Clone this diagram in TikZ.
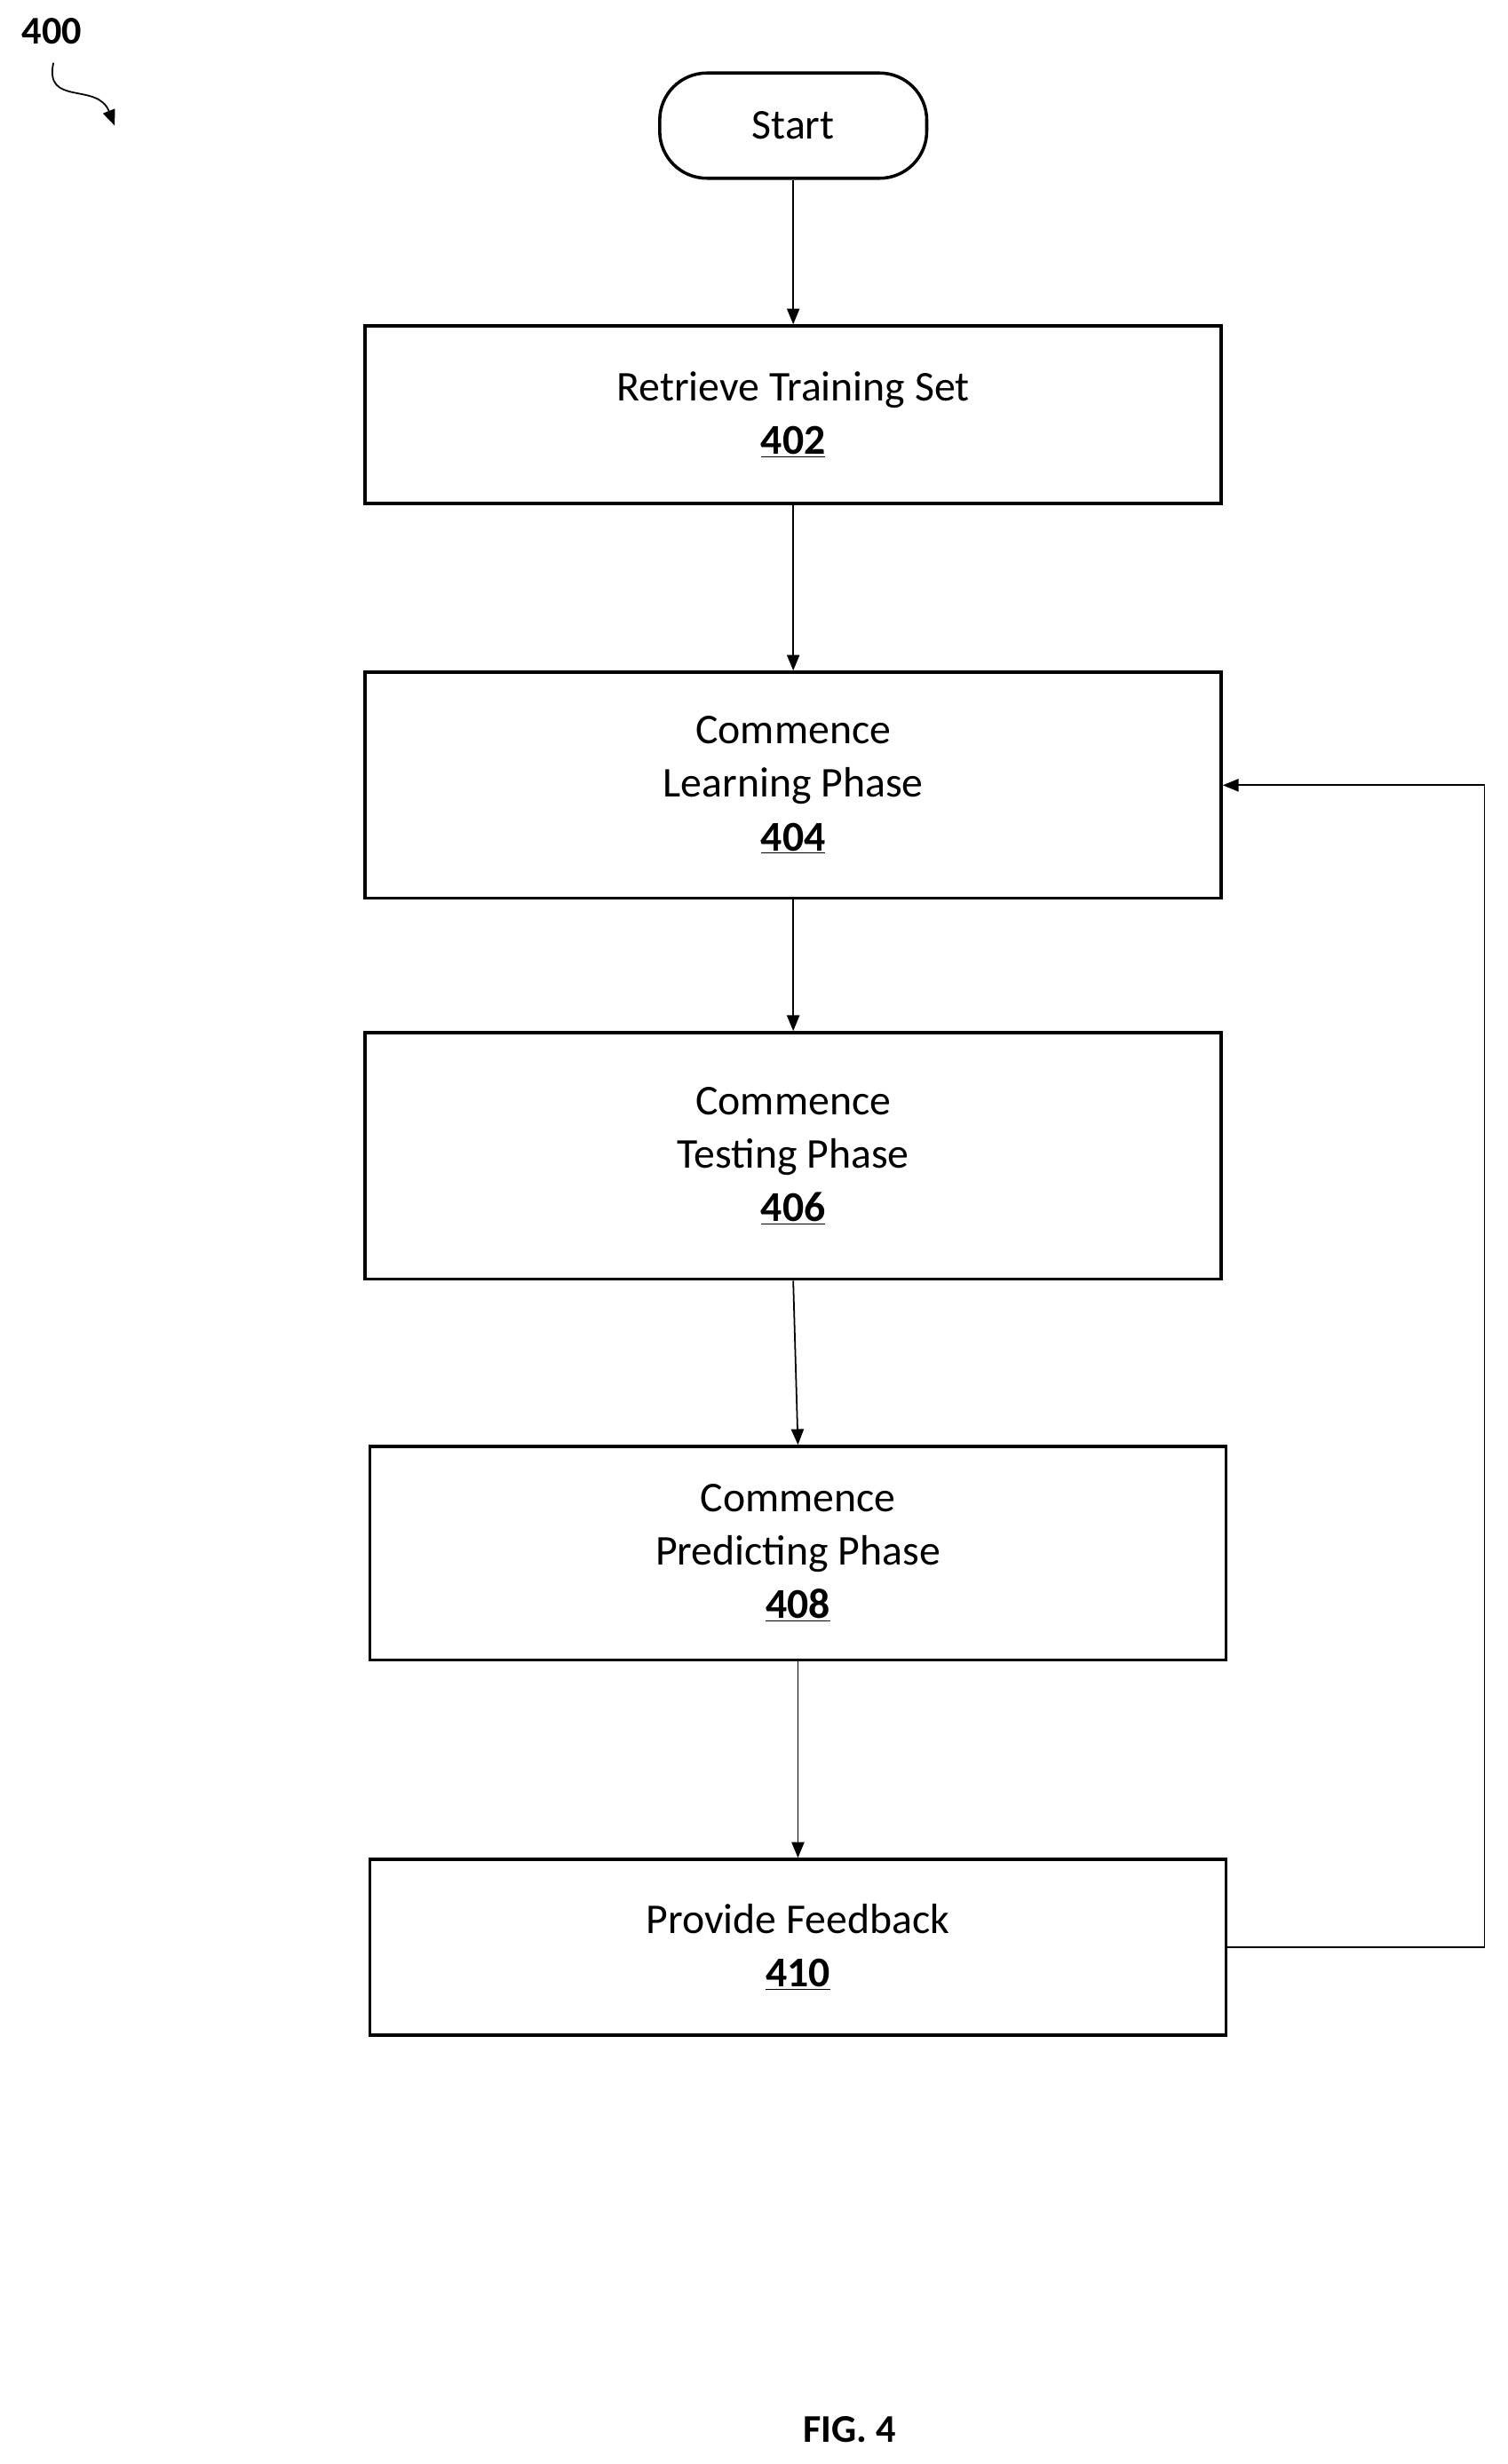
\documentclass[tikz,border=0pt]{standalone}
\usepackage{fontspec}
\setmainfont{Carlito}
\usetikzlibrary{arrows.meta,positioning}
\tikzset{
  box/.style={draw,line width=2pt,minimum width=545pt,align=center,font=\fontsize{27}{34}\selectfont},
  term/.style={draw,line width=2pt,rounded corners=30pt,minimum width=170pt,minimum height=67pt,font=\fontsize{27}{30}\selectfont},
  flow/.style={-{Triangle[length=10pt,width=8pt]},line width=1pt},
  every node/.style={inner sep=0pt}
}
\newcommand{\refnum}[1]{\textbf{\underline{#1}}}
\begin{document}
\begin{tikzpicture}[x=1pt,y=-1pt]
  \useasboundingbox (0,0) rectangle (960,1569);

  \node[font=\fontsize{25}{28}\selectfont\bfseries] (fignum) at (33,20) {400};
  \coordinate (curlA) at (34,40);
  \coordinate (curlB) at (73,80);
  \draw[flow] (curlA) .. controls (28,68) and (62,52) .. (curlB);

  \node[term] (start) at (505,80) {Start};
  \node[box,minimum height=113pt] (retrieve) at (505,264) {Retrieve Training Set\\\refnum{402}};
  \node[box,minimum height=144pt] (learn) at (505,500) {Commence\\Learning Phase\\\refnum{404}};
  \node[box,minimum height=157pt] (test) at (505,736) {Commence\\Testing Phase\\\refnum{406}};
  \node[box,minimum height=136pt] (predict) at (508,989) {Commence\\Predicting Phase\\\refnum{408}};
  \node[box,minimum height=112pt] (feedback) at (508,1240) {Provide Feedback\\\refnum{410}};

  \draw[flow] (start) -- (retrieve);
  \draw[flow] (retrieve) -- (learn);
  \draw[flow] (learn) -- (test);
  \draw[flow] (test.south) -- (predict.north);
  \draw[flow] (predict) -- (feedback);
  \draw[flow] (feedback.east) -- (945,1240) -- (945,500) -- (learn.east);

  \node[font=\fontsize{25}{28}\selectfont\bfseries] (caption) at (541,1547) {FIG. 4};
\end{tikzpicture}
\end{document}
